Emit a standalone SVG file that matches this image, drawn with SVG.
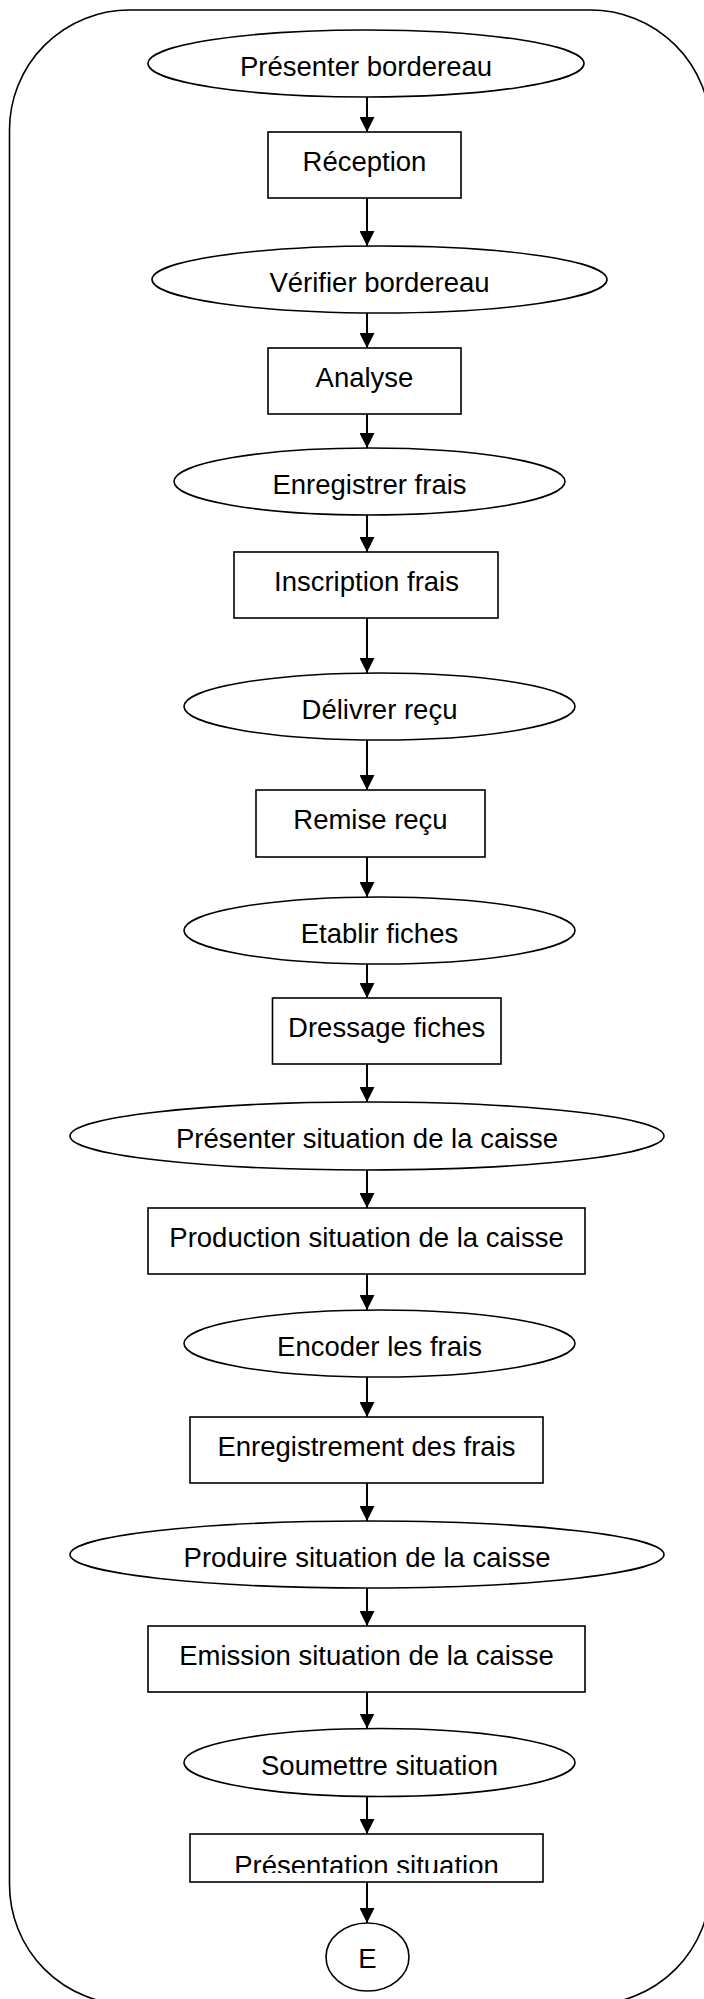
<svg xmlns="http://www.w3.org/2000/svg" width="704" height="1999" viewBox="0 0 704 1999">
  <style>
    .shape { fill: #ffffff; stroke: #000000; stroke-width: 1.6; }
    .frame { fill: none; stroke: #000000; stroke-width: 1.6; }
    .lbl { font-family: "Liberation Sans", Arial, sans-serif; font-size: 27.5px; fill: #000000; text-anchor: middle; }
    .flow { fill: none; stroke: #000000; stroke-width: 2; }
  </style>
  <defs>
    <marker id="arrow" viewBox="0 0 15 15" refX="15" refY="7.5" markerWidth="15" markerHeight="15" markerUnits="userSpaceOnUse" orient="auto">
      <path d="M0,0 L15,7.5 L0,15 Z" fill="#000000"/>
    </marker>
    <clipPath id="clip-presentation">
      <rect x="190" y="1834" width="353" height="39"/>
    </clipPath>
  </defs>

  <rect width="704" height="1999" fill="#ffffff"/>

  <!-- outer rounded frame -->
  <rect class="frame" x="9.5" y="10" width="701" height="1994.5" rx="120" ry="120"/>

  <!-- connectors -->
  <g id="connectors">
    <line class="flow" x1="367" y1="97" x2="367" y2="132" marker-end="url(#arrow)"/>
    <line class="flow" x1="367" y1="198" x2="367" y2="246" marker-end="url(#arrow)"/>
    <line class="flow" x1="367" y1="313" x2="367" y2="348" marker-end="url(#arrow)"/>
    <line class="flow" x1="367" y1="414" x2="367" y2="448" marker-end="url(#arrow)"/>
    <line class="flow" x1="367" y1="515" x2="367" y2="552" marker-end="url(#arrow)"/>
    <line class="flow" x1="367" y1="618" x2="367" y2="673" marker-end="url(#arrow)"/>
    <line class="flow" x1="367" y1="740" x2="367" y2="790" marker-end="url(#arrow)"/>
    <line class="flow" x1="367" y1="857" x2="367" y2="897" marker-end="url(#arrow)"/>
    <line class="flow" x1="367" y1="964" x2="367" y2="998" marker-end="url(#arrow)"/>
    <line class="flow" x1="367" y1="1064" x2="367" y2="1102" marker-end="url(#arrow)"/>
    <line class="flow" x1="367" y1="1170" x2="367" y2="1208" marker-end="url(#arrow)"/>
    <line class="flow" x1="367" y1="1274" x2="367" y2="1310" marker-end="url(#arrow)"/>
    <line class="flow" x1="367" y1="1377" x2="367" y2="1417" marker-end="url(#arrow)"/>
    <line class="flow" x1="367" y1="1483" x2="367" y2="1521" marker-end="url(#arrow)"/>
    <line class="flow" x1="367" y1="1588" x2="367" y2="1626" marker-end="url(#arrow)"/>
    <line class="flow" x1="367" y1="1692" x2="367" y2="1728.5" marker-end="url(#arrow)"/>
    <line class="flow" x1="367" y1="1797" x2="367" y2="1834" marker-end="url(#arrow)"/>
    <line class="flow" x1="367" y1="1882" x2="367" y2="1923" marker-end="url(#arrow)"/>
  </g>

  <g id="presenter-bordereau">
    <ellipse class="shape" cx="366" cy="63.5" rx="218" ry="33.5"/>
    <text class="lbl" x="366" y="75.5">Présenter bordereau</text>
  </g>
  <g id="reception">
    <rect class="shape" x="268" y="132" width="193" height="66"/>
    <text class="lbl" x="364.5" y="170.5">Réception</text>
  </g>
  <g id="verifier-bordereau">
    <ellipse class="shape" cx="379.5" cy="279.5" rx="227.5" ry="33.5"/>
    <text class="lbl" x="379.5" y="291.5">Vérifier bordereau</text>
  </g>
  <g id="analyse">
    <rect class="shape" x="268" y="348" width="193" height="66"/>
    <text class="lbl" x="364.5" y="386.5">Analyse</text>
  </g>
  <g id="enregistrer-frais">
    <ellipse class="shape" cx="369.5" cy="481.5" rx="195.5" ry="33.5"/>
    <text class="lbl" x="369.5" y="493.5">Enregistrer frais</text>
  </g>
  <g id="inscription-frais">
    <rect class="shape" x="234" y="552" width="264" height="66"/>
    <text class="lbl" x="366.5" y="590.5">Inscription frais</text>
  </g>
  <g id="delivrer-recu">
    <ellipse class="shape" cx="379.5" cy="706.5" rx="195.5" ry="33.5"/>
    <text class="lbl" x="379.5" y="718.5">Délivrer reçu</text>
  </g>
  <g id="remise-recu">
    <rect class="shape" x="256" y="790" width="229" height="67"/>
    <text class="lbl" x="370.5" y="828.5">Remise reçu</text>
  </g>
  <g id="etablir-fiches">
    <ellipse class="shape" cx="379.5" cy="930.5" rx="195.5" ry="33.5"/>
    <text class="lbl" x="379.5" y="942.5">Etablir fiches</text>
  </g>
  <g id="dressage-fiches">
    <rect class="shape" x="272.5" y="998" width="228.5" height="66"/>
    <text class="lbl" x="386.7" y="1036.5">Dressage fiches</text>
  </g>
  <g id="presenter-situation">
    <ellipse class="shape" cx="367" cy="1136" rx="297" ry="34"/>
    <text class="lbl" x="367" y="1148">Présenter situation de la caisse</text>
  </g>
  <g id="production-situation">
    <rect class="shape" x="148" y="1208" width="437" height="66"/>
    <text class="lbl" x="366.5" y="1246.5">Production situation de la caisse</text>
  </g>
  <g id="encoder-frais">
    <ellipse class="shape" cx="379.5" cy="1343.5" rx="195.5" ry="33.5"/>
    <text class="lbl" x="379.5" y="1355.5">Encoder les frais</text>
  </g>
  <g id="enregistrement-frais">
    <rect class="shape" x="190" y="1417" width="353" height="66"/>
    <text class="lbl" x="366.5" y="1455.5">Enregistrement des frais</text>
  </g>
  <g id="produire-situation">
    <ellipse class="shape" cx="367" cy="1554.5" rx="297" ry="33.5"/>
    <text class="lbl" x="367" y="1566.5">Produire situation de la caisse</text>
  </g>
  <g id="emission-situation">
    <rect class="shape" x="148" y="1626" width="437" height="66"/>
    <text class="lbl" x="366.5" y="1664.5">Emission situation de la caisse</text>
  </g>
  <g id="soumettre-situation">
    <ellipse class="shape" cx="379.5" cy="1762.5" rx="195.5" ry="34"/>
    <text class="lbl" x="379.5" y="1774.5">Soumettre situation</text>
  </g>
  <g id="presentation-situation">
    <rect class="shape" x="190" y="1834" width="353" height="48"/>
    <text class="lbl" x="366.5" y="1875" clip-path="url(#clip-presentation)">Présentation situation</text>
  </g>
  <g id="end-e">
    <ellipse class="shape" cx="367.5" cy="1957" rx="41.5" ry="34"/>
    <text class="lbl" x="367.5" y="1968">E</text>
  </g>
</svg>
